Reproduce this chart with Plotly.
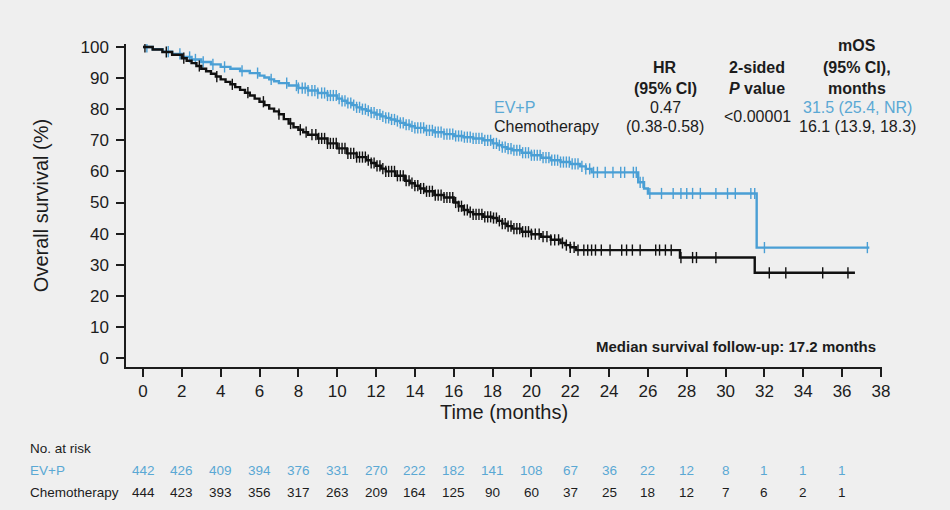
import numpy as np
import plotly.graph_objects as go

# ---------------- data ----------------
evp_time = [0, 0.5, 1, 1.5, 2, 2.5, 3, 3.5, 4, 4.5, 5, 5.5, 6, 6.25, 6.5, 6.75, 7, 7.5, 8, 8.5,
            9, 9.5, 10, 10.25, 10.5, 10.75, 11, 11.25, 11.5, 11.75, 12, 12.25, 12.5, 12.75, 13,
            13.25, 13.5, 13.75, 14, 14.5, 15, 15.5, 16, 16.5, 17, 17.5, 18, 18.25, 18.5, 18.75,
            19, 19.5, 20, 20.5, 21, 21.5, 22, 22.5, 22.8, 23.1, 25.5, 25.8, 26.0, 31.6, 37.4]
evp_surv = [100, 99.3, 98.5, 97.8, 96.8, 96.0, 95.2, 94.4, 93.6, 93.0, 92.3, 91.6, 90.8, 90.2,
            89.6, 89.0, 88.4, 87.6, 86.8, 86.0, 85.2, 84.4, 83.4, 82.7, 82.0, 81.3, 80.6, 80.0,
            79.5, 78.9, 78.3, 77.7, 77.2, 76.7, 76.2, 75.6, 75.0, 74.5, 74.0, 73.2, 72.6, 72.0,
            71.4, 71.0, 70.6, 70.0, 69.0, 68.4, 67.8, 67.3, 66.8, 66.0, 65.2, 64.4, 63.6, 63.0,
            62.4, 61.6, 60.8, 59.7, 56.5, 54.5, 52.9, 35.5, 35.5]
evp_censor = [0.2, 1.3, 1.9, 2.4, 2.7, 3.1, 3.6, 4.2, 5.1, 5.9, 6.6, 7.4, 7.9,
              8.0, 8.2, 8.35, 8.5, 8.7, 8.85, 9.0, 9.2, 9.35, 9.5, 9.65, 9.8, 9.95, 10.1, 10.25,
              10.4, 10.55, 10.7, 10.85, 11.0, 11.15, 11.3, 11.45, 11.6, 11.75, 11.9, 12.05, 12.2,
              12.35, 12.5, 12.65, 12.8, 12.95, 13.1, 13.25, 13.4, 13.55, 13.7, 13.85, 14.0,
              14.15, 14.3, 14.45, 14.6, 14.75, 14.9, 15.05, 15.2, 15.35, 15.5, 15.65, 15.8,
              15.95, 16.1, 16.25, 16.4, 16.55, 16.7, 16.85, 17.0, 17.15, 17.3, 17.45, 17.6,
              17.75, 17.9, 18.05, 18.2, 18.35, 18.5, 18.65, 18.8, 18.95, 19.1, 19.25, 19.4,
              19.55, 19.7, 19.85, 20.0, 20.15, 20.3, 20.45, 20.6, 20.75, 20.9, 21.05, 21.2,
              21.35, 21.5, 21.65, 21.8, 21.95, 22.1, 22.25, 22.4, 22.6, 22.8, 23.0, 23.2,
              23.4, 23.8, 24.2, 24.6, 24.8, 25.25, 25.4, 25.6, 25.75, 26.1, 26.7, 27.3, 27.7,
              28.0, 28.3, 28.7, 29.5, 30.1, 30.5, 31.3, 31.5, 32.0, 37.3]

chemo_time = [0, 0.5, 1, 1.5, 2, 2.25, 2.5, 2.75, 3, 3.25, 3.5, 3.75, 4, 4.25, 4.5, 4.75, 5,
              5.25, 5.5, 5.75, 6, 6.25, 6.5, 6.75, 7, 7.25, 7.5, 7.75, 8, 8.25, 8.5, 9, 9.5,
              10, 10.5, 11, 11.5, 11.75, 12, 12.25, 12.5, 13, 13.5, 13.75, 14, 14.25, 14.5, 15,
              15.5, 16, 16.25, 16.5, 16.75, 17, 17.5, 18, 18.25, 18.5, 18.75, 19, 19.5, 20,
              20.5, 21, 21.5, 21.75, 22, 22.3, 27.65, 31.5, 36.66]
chemo_surv = [100, 99.2, 98.4, 97.5, 96.4, 95.6, 94.8, 93.9, 93.0, 92.2, 91.4, 90.5, 89.6,
              88.8, 88.0, 87.1, 86.2, 85.3, 84.4, 83.4, 82.4, 81.3, 80.2, 79.3, 78.4, 76.8,
              75.4, 74.2, 73.4, 72.6, 71.8, 70.6, 69.0, 67.4, 65.8, 64.6, 63.6, 62.7, 61.8,
              60.9, 60.0, 58.6, 57.0, 56.2, 55.4, 54.5, 53.6, 52.4, 51.6, 50.0, 48.8, 47.6,
              46.9, 46.2, 45.4, 45.0, 44.1, 43.2, 42.4, 41.6, 40.6, 39.8, 39.0, 38.0, 37.0,
              36.3, 35.6, 34.7, 32.3, 27.4, 27.4]
chemo_censor = [0.1, 1.2, 2.1, 2.9, 3.8, 4.6, 5.4, 6.2, 7.0, 7.6, 8.1, 8.4, 8.7,
                8.9, 9.05, 9.2, 9.35, 9.5, 9.65, 9.8, 9.95, 10.1, 10.25, 10.4, 10.55, 10.7,
                10.85, 11.0, 11.15, 11.3, 11.45, 11.6, 11.75, 11.9, 12.05, 12.2, 12.35, 12.5,
                12.65, 12.8, 12.95, 13.1, 13.25, 13.4, 13.55, 13.7, 13.85, 14.0, 14.15, 14.3,
                14.45, 14.6, 14.75, 14.9, 15.05, 15.2, 15.35, 15.5, 15.65, 15.8, 15.95, 16.1,
                16.25, 16.4, 16.55, 16.7, 16.85, 17.0, 17.15, 17.3, 17.45, 17.6, 17.75, 17.9,
                18.05, 18.2, 18.35, 18.5, 18.65, 18.8, 18.95, 19.1, 19.25, 19.4, 19.55, 19.7,
                19.85, 20.0, 20.2, 20.4, 20.6, 20.8, 21.0, 21.2, 21.4, 21.6, 21.8, 22.0, 22.2,
                22.4, 22.7, 22.9, 23.1, 23.3, 23.6, 24.05, 24.65, 24.9, 25.2, 25.6, 26.4,
                26.6, 26.9, 27.2, 27.7, 28.3, 28.5, 29.5, 32.25, 33.1, 35.0, 36.3]

risk_months = [0, 2, 4, 6, 8, 10, 12, 14, 16, 18, 20, 22, 24, 26, 28, 30, 32, 34, 36]
risk_evp = [442, 426, 409, 394, 376, 331, 270, 222, 182, 141, 108, 67, 36, 22, 12, 8, 1, 1, 1]
risk_chemo = [444, 423, 393, 356, 317, 263, 209, 164, 125, 90, 60, 37, 25, 18, 12, 7, 6, 2, 1]

x_ticks = list(range(0, 40, 2))
y_ticks = list(range(0, 110, 10))

# ---------------- styling ----------------
BLUE = "#4a9fd5"
BLUE_TXT = "#5aa8d4"
BLACK = "#111111"
TXT = "#1c1c1c"
BG = "#efefef"
FONT = "Liberation Sans, Arial, sans-serif"

L, R, T, B = 126, 882, 44, 367
W, H = R - L, B - T


def px(x):
    return (x - L) / W


def py(y):
    return (B - y) / H


def step_at(times, surv, t):
    i = np.searchsorted(np.asarray(times), t, side="right") - 1
    return float(np.asarray(surv)[max(i, 0)])


fig = go.Figure()

for times, surv, cens, col in [(evp_time, evp_surv, evp_censor, BLUE),
                               (chemo_time, chemo_surv, chemo_censor, BLACK)]:
    fig.add_trace(go.Scatter(x=times, y=surv, mode="lines", line=dict(color=col, width=2.4, shape="hv"),
                             showlegend=False, hoverinfo="skip"))
    fig.add_trace(go.Scatter(x=cens, y=[step_at(times, surv, c) for c in cens], mode="markers",
                             marker=dict(symbol="line-ns", size=8, line=dict(color=col, width=1.4)),
                             showlegend=False, hoverinfo="skip"))

ann = []


def add(text, x, y, size=16, color=TXT, xanchor="center"):
    ann.append(dict(text=text, x=px(x), y=py(y), xref="paper", yref="paper", showarrow=False,
                    xanchor=xanchor, yanchor="middle", font=dict(family=FONT, size=size, color=color)))


# header table
add("<b>HR</b>", 665, 67)
add("<b>(95% CI)</b>", 665, 88)
add("0.47", 665, 107)
add("(0.38-0.58)", 665, 127)
add("<b>2-sided</b>", 757, 67)
add("<b><i>P</i> value</b>", 757, 88)
add("<0.00001", 757, 117)
add("<b>mOS</b>", 857, 46)
add("<b>(95% CI),</b>", 857, 67)
add("<b>months</b>", 857, 88)
add("31.5 (25.4, NR)", 857, 107, color=BLUE_TXT)
add("16.1 (13.9, 18.3)", 857, 127)
add("EV+P", 492, 107, color=BLUE_TXT, xanchor="left")
add("Chemotherapy", 492, 127, xanchor="left")
add("<b>Median survival follow-up: 17.2 months</b>", 878, 346, size=15, xanchor="right")

# risk table
add("No. at risk", 28, 448, size=13.5, xanchor="left")
add("EV+P", 28, 470, size=13.5, color=BLUE_TXT, xanchor="left")
add("Chemotherapy", 28, 492, size=13.5, xanchor="left")
for m, a, c in zip(risk_months, risk_evp, risk_chemo):
    for val, yy, col in [(a, 470, BLUE_TXT), (c, 492, TXT)]:
        ann.append(dict(text=str(val), x=m, y=py(yy), xref="x", yref="paper", showarrow=False,
                        xanchor="center", yanchor="middle",
                        font=dict(family=FONT, size=13.5, color=col)))

fig.update_layout(
    width=950, height=510,
    margin=dict(l=L, r=950 - R, t=T, b=510 - B),
    paper_bgcolor=BG, plot_bgcolor=BG,
    font=dict(family=FONT, color=TXT),
    annotations=ann,
    showlegend=False,
)

x0 = -17 / 19.42
x1 = x0 + W / 19.42
fig.update_xaxes(range=[x0, x1], tickvals=x_ticks, ticks="outside", ticklen=8, tickwidth=1.5,
                 tickcolor=TXT, showline=True, linecolor=TXT, linewidth=1.5, showgrid=False,
                 zeroline=False, tickfont=dict(size=17, color=TXT),
                 title=dict(text="Time (months)", font=dict(size=20, color=TXT), standoff=4))
y_per = 311 / 100
y1 = 100 + (47 - T) / y_per
y0 = 100 - (B - 47) / y_per
fig.update_yaxes(range=[y0, y1], tickvals=y_ticks, ticks="outside", ticklen=8, tickwidth=1.5,
                 tickcolor=TXT, showline=True, linecolor=TXT, linewidth=1.5, showgrid=False,
                 zeroline=False, tickfont=dict(size=17, color=TXT), ticklabelstandoff=4,
                 title=dict(text="Overall survival (%)", font=dict(size=20, color=TXT), standoff=26))

fig.write_html("out.html")
